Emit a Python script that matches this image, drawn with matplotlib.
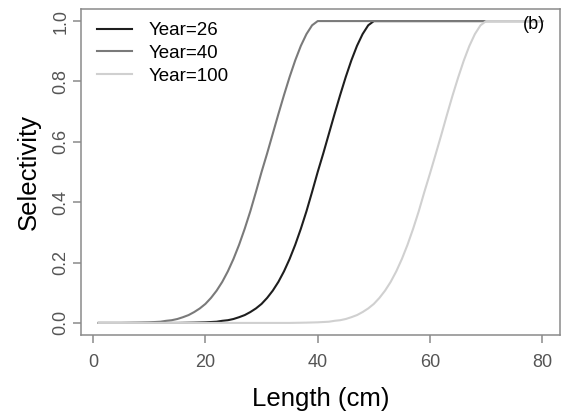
import matplotlib
matplotlib.use("Agg")
import matplotlib.pyplot as plt

plt.rcParams['font.family'] = ['Liberation Sans', 'DejaVu Sans']

# Selectivity vs length for each year
year26_x = [1, 15, 18, 20, 21, 22, 23, 24, 25, 26, 27, 28, 29, 30, 31, 32, 33, 34, 35,
            36, 37, 38, 39, 40, 41, 42, 43, 44, 45, 46, 47, 48, 49, 50, 80]
year40_x = [1, 5, 8, 10, 11, 12, 13, 14, 15, 16, 17, 18, 19, 20, 21, 22, 23, 24, 25,
            26, 27, 28, 29, 30, 31, 32, 33, 34, 35, 36, 37, 38, 39, 40, 80]
year100_x = [1, 35, 38, 40, 41, 42, 43, 44, 45, 46, 47, 48, 49, 50, 51, 52, 53, 54, 55,
             56, 57, 58, 59, 60, 61, 62, 63, 64, 65, 66, 67, 68, 69, 70, 80]
year26_y = [0, 0, 0.001, 0.002, 0.003, 0.004, 0.007, 0.009, 0.013, 0.019, 0.026, 0.036,
            0.048, 0.063, 0.083, 0.107, 0.136, 0.171, 0.212, 0.259, 0.312, 0.370, 0.434,
            0.500, 0.562, 0.627, 0.692, 0.755, 0.815, 0.870, 0.918, 0.957, 0.986, 1.0, 1.0]
year40_y = [0, 0, 0.001, 0.002, 0.003, 0.004, 0.007, 0.009, 0.013, 0.019, 0.026, 0.036,
            0.048, 0.063, 0.083, 0.107, 0.136, 0.171, 0.212, 0.259, 0.312, 0.370, 0.434,
            0.500, 0.562, 0.627, 0.692, 0.755, 0.815, 0.870, 0.918, 0.957, 0.986, 1.0, 1.0]
year100_y = [0, 0, 0.001, 0.002, 0.003, 0.004, 0.007, 0.009, 0.013, 0.019, 0.026, 0.036,
             0.048, 0.063, 0.083, 0.107, 0.136, 0.171, 0.212, 0.259, 0.312, 0.370, 0.434,
             0.495, 0.558, 0.622, 0.688, 0.752, 0.812, 0.868, 0.917, 0.957, 0.986, 1.0, 1.0]

labels = ["Year=26", "Year=40", "Year=100"]
colors = ["#1e1e1e", "#7a7a7a", "#d0d0d0"]
x_ticks = [0, 20, 40, 60, 80]
y_ticks = [0.0, 0.2, 0.4, 0.6, 0.8, 1.0]

fig = plt.figure(figsize=(5.65, 4.17), dpi=100)
ax = fig.add_axes([81/565, (417-335)/417, 479/565, 326/417])

for xs, ys, lab, c in zip([year26_x, year40_x, year100_x],
                          [year26_y, year40_y, year100_y], labels, colors):
    ax.plot(xs, ys, color=c, lw=1.5, label=lab)

ax.set_xlim(-2.16, 83.16)
ax.set_ylim(-0.04, 1.04)
ax.set_xticks(x_ticks)
ax.set_yticks(y_ticks)
ax.set_xticklabels([str(t) for t in x_ticks])
ax.set_yticklabels([f"{t:.1f}" for t in y_ticks], rotation=90, va='center')

frame_c = "#8a8a8a"
for s in ax.spines.values():
    s.set_color(frame_c)
    s.set_linewidth(1.1)
ax.tick_params(axis='both', direction='out', length=5.5, width=1.1, color=frame_c,
               labelcolor="#555555", labelsize=13)
ax.tick_params(axis='x', pad=8)
ax.tick_params(axis='y', pad=3)

ax.set_xlabel("Length (cm)", fontsize=18.5, color="black", labelpad=12)
ax.set_ylabel("Selectivity", fontsize=18.5, color="black", labelpad=8)

leg = ax.legend(loc='upper left', bbox_to_anchor=(0.0334, 0.96), frameon=False,
                fontsize=13.5, handlelength=1.85, handletextpad=0.9,
                labelspacing=0.3, borderpad=0, borderaxespad=0)
for line in leg.get_lines():
    line.set_linewidth(1.5)

ax.text(78.6, 0.99, "(b)", fontsize=13, ha='center', va='center', color='black')

fig.savefig("out.png", dpi=100)
